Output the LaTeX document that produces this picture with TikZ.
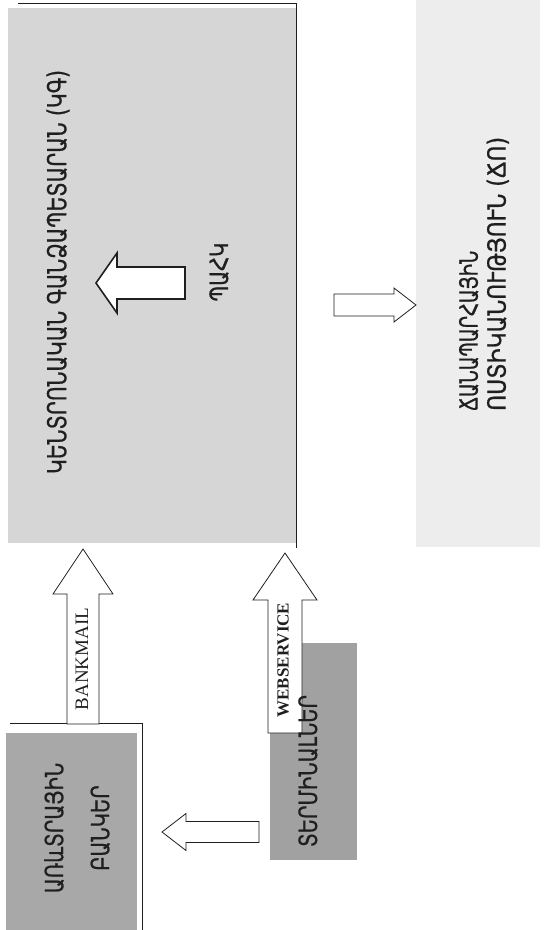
\documentclass[tikz,border=0pt]{standalone}
\usepackage{fontspec}
\usepackage{graphicx}
\usetikzlibrary{calc}
\newfontfamily\arm[FakeStretch=0.78,FakeBold=0.8]{DejaVu Sans}
\newfontfamily\tms{Liberation Serif}
\definecolor{bigfill}{gray}{0.84}
\definecolor{fmfill}{gray}{0.93}
\definecolor{bankfill}{gray}{0.66}
\definecolor{termfill}{gray}{0.63}
\definecolor{ink}{gray}{0.12}
\tikzset{
  box/.style={draw=none, inner sep=0pt, outer sep=0pt},
  edge/.style={draw=ink, line width=0.9pt},
  barrow/.style={draw=ink, fill=white, line width=0.8pt, line join=miter},
  armtext/.style={font=\arm\fontsize{25}{29}\selectfont, text=ink, rotate=90, inner sep=0pt, align=center},
  lattext/.style={text=ink, rotate=90, inner sep=0pt},
}
% block arrow: [opts]{tail}{tip}{shaft half}{head half}{head length}
\newcommand{\blockarrow}[6][]{%
  \coordinate (bah) at ($(#3)!#6!(#2)$);
  \draw[barrow,#1] ($(#2)!#4!90:(#3)$) -- ($(bah)!#4!90:(#3)$) -- ($(bah)!#5!90:(#3)$) -- (#3)
     -- ($(bah)!#5!-90:(#3)$) -- ($(bah)!#4!-90:(#3)$) -- ($(#2)!#4!-90:(#3)$) -- cycle;
}
\begin{document}
\begin{tikzpicture}[x=1pt,y=-1pt]
\useasboundingbox (0,0) rectangle (547,930);
\fill[white] (0,0) rectangle (547,930);

% boxes
\node[box, fill=bigfill, minimum width=288pt, minimum height=535pt, anchor=north west] (big) at (8,8) {};
\draw[edge] (18,3) -- (296,3) -- (296,548);
\node[box, fill=fmfill, minimum width=124pt, minimum height=547pt, anchor=north west] (police) at (416,0) {};
\node[box, fill=bankfill, minimum width=131pt, minimum height=197pt, anchor=north west] (banks) at (6,733) {};
\draw[edge] (10,723) -- (142,723) -- (142,932);
\node[box, fill=termfill, minimum width=87pt, minimum height=217pt, anchor=north west] (term) at (270,643) {};

% texts inside boxes
\node[armtext, font=\arm\fontsize{26}{29}\selectfont] (bigT) at (58,272) {ԿԵՆՏՐՈՆԱԿԱՆ ԳԱՆՁԱՊԵՏԱՐԱՆ (ԿԳ)};
\node[armtext] (innerT) at (219,272) {ՊԱՀԿ};
\node[armtext, align=left, anchor=west, font=\arm\fontsize{25}{28}\selectfont] (policeT) at (484,411)
  {\scalebox{0.92}[1]{ՃԱՆԱՊԱՐՀԱՅԻՆ}\\\scalebox{1.12}[1]{ՈՍՏԻԿԱՆՈՒԹՅՈՒՆ (ՃՈ)}};
\node[armtext, font=\arm\fontsize{25}{46}\selectfont] (banksT) at (77,828) {ԱՌևՏՐԱՅԻՆ\\ԲԱՆԿԵՐ};

% connectors
\coordinate (bmTail) at (83,724);
\coordinate (bmTip) at ([yshift=-6pt]big.south -| bmTail);
\blockarrow{bmTail}{bmTip}{16pt}{30pt}{45pt}
\node[lattext, font=\tms\fontsize{19}{19}\selectfont] (bmT) at (82,659) {BANKMAIL};

\coordinate (wsTail) at (285,733);
\coordinate (wsTip) at ([yshift=-10pt]big.south -| wsTail);
\blockarrow{wsTail}{wsTip}{17pt}{32pt}{47pt}
\node[lattext, font=\tms\bfseries\fontsize{17}{17}\selectfont] (wsT) at (283,660) {WEBSERVICE};

\node[armtext] (termT) at (308,771) {ՏԵՐՄԻՆԱԼՆԵՐ};

\coordinate (tbTail) at ([xshift=-11pt]term.west |- 0,832);
\coordinate (tbTip) at ([xshift=25pt]banks.east |- tbTail);
\blockarrow{tbTail}{tbTip}{10.5pt}{18.5pt}{24pt}

\coordinate (bpTail) at ([xshift=38pt]big.east |- 0,305);
\coordinate (bpTip) at (police.west |- bpTail);
\blockarrow{bpTail}{bpTip}{11pt}{17pt}{22pt}

\coordinate (inTail) at (185,283);
\coordinate (inTip) at (96,283);
\blockarrow[line width=1.6pt]{inTail}{inTip}{16pt}{30pt}{21pt}
\end{tikzpicture}
\end{document}
